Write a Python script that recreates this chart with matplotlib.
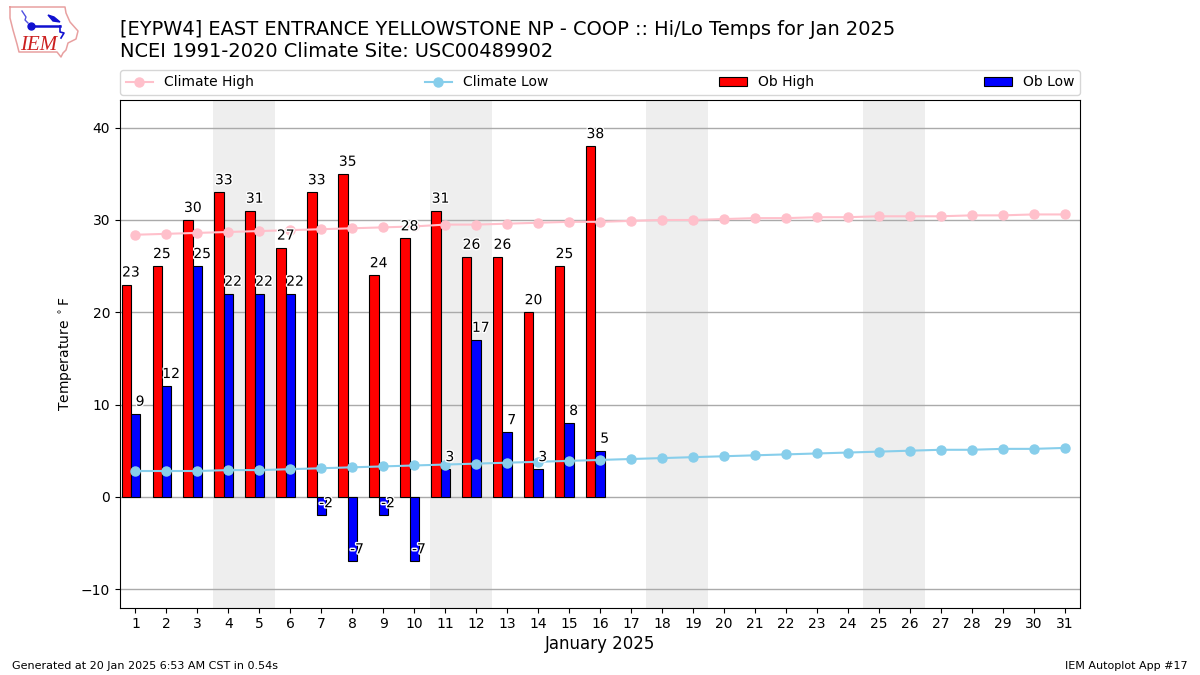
import matplotlib
matplotlib.use("Agg")
import matplotlib.pyplot as plt
import matplotlib.patheffects as pe
import numpy as np

days = list(range(1, 32))
ob_days = list(range(1, 17))
ob_high = [23, 25, 30, 33, 31, 27, 33, 35, 24, 28, 31, 26, 26, 20, 25, 38]
ob_low = [9, 12, 25, 22, 22, 22, -2, -7, -2, -7, 3, 17, 7, 3, 8, 5]
climate_high = [28.4, 28.5, 28.6, 28.7, 28.8, 28.9, 29.0, 29.1, 29.2, 29.3, 29.5,
                29.5, 29.6, 29.7, 29.8, 29.8, 29.9, 30.0, 30.0, 30.1, 30.2, 30.2,
                30.3, 30.3, 30.4, 30.4, 30.4, 30.5, 30.5, 30.6, 30.6]
climate_low = [2.8, 2.8, 2.8, 2.9, 2.9, 3.0, 3.1, 3.2, 3.3, 3.4, 3.5, 3.6, 3.7,
               3.8, 3.9, 4.0, 4.1, 4.2, 4.3, 4.4, 4.5, 4.6, 4.7, 4.8, 4.9, 5.0,
               5.1, 5.1, 5.2, 5.2, 5.3]
weekends = [(4, 5), (11, 12), (18, 19), (25, 26)]
title_lines = ["[EYPW4] EAST ENTRANCE YELLOWSTONE NP - COOP :: Hi/Lo Temps for Jan 2025",
               "NCEI 1991-2020 Climate Site: USC00489902"]

W, H = 1200, 675
fig = plt.figure(figsize=(12, 6.75), dpi=100)
ax = fig.add_axes([120 / W, 1 - 607.6 / H, (1080 - 120) / W, (607.6 - 100) / H])

for a, b in weekends:
    ax.axvspan(a - 0.5, b + 0.5, color="#eeeeee", lw=0, zorder=0)

ax.set_axisbelow(True)
ax.yaxis.grid(True, color="#aaaaaa", lw=1, zorder=1)

obx = np.array(ob_days)
h_bars = ax.bar(obx - 0.30, ob_high, width=0.3, color="red", edgecolor="k", lw=0.8,
                label="Ob High", zorder=2)
l_bars = ax.bar(obx, ob_low, width=0.3, color="blue", edgecolor="k", lw=0.8,
                label="Ob Low", zorder=2)
ln1, = ax.plot(days, climate_high, color="pink", marker="o", ms=6.5, label="Climate High", zorder=3)
ln2, = ax.plot(days, climate_low, color="skyblue", marker="o", ms=6.5, label="Climate Low", zorder=3)

stroke = [pe.withStroke(linewidth=2, foreground="white")]
for d, v in zip(ob_days, ob_high):
    ax.text(d - 0.15, v + 0.55, str(v), ha="center", va="bottom", fontsize=10,
            path_effects=stroke, zorder=5)
for d, v in zip(ob_days, ob_low):
    ax.text(d + 0.15, v + 0.55, str(v), ha="center", va="bottom", fontsize=10,
            path_effects=stroke, zorder=5)

ax.set_xlim(0.5, 31.5)
ax.set_ylim(-12, 43)
ax.set_xticks(days)
ax.set_yticks([-10, 0, 10, 20, 30, 40])
ax.set_xlabel("January 2025", fontsize=12, labelpad=3)
ax.set_ylabel(r"Temperature $^\circ$F")

fig.legend(handles=[ln1, ln2, h_bars, l_bars], loc="lower left",
           bbox_to_anchor=(120 / W, 1 - 95 / H, (1080 - 120) / W, 26 / H),
           ncol=4, mode="expand", borderaxespad=0, fontsize=10)

fig.text(120 / W, 1 - 29.4 / H, title_lines[0], fontsize=13.98, va="center", ha="left")
fig.text(120 / W, 1 - 51.4 / H, title_lines[1], fontsize=13.98, va="center", ha="left")
fig.text(12 / W, 1 - 666 / H, "Generated at 20 Jan 2025 6:53 AM CST in 0.54s", fontsize=8, va="center")
fig.text(1188 / W, 1 - 666 / H, "IEM Autoplot App #17", fontsize=8, va="center", ha="right")

# logo
lg = fig.add_axes([0, 1 - 70 / H, 120 / W, 70 / H])
lg.set_xlim(0, 120)
lg.set_ylim(70, 0)
lg.axis("off")
ox = [10, 65, 66, 70, 78, 76, 68, 66, 63, 61, 57, 19, 17, 13, 10, 10]
oy = [7, 7, 13, 22, 31, 39, 43, 50, 53, 57, 52, 52, 44, 30, 18, 7]
lg.plot(ox, oy, color="#e8a0a0", lw=1.1)
lg.plot([31, 60], [26, 26], color="#1010d0", lw=1.8)
lg.plot([31], [26], "o", color="#1010d0", ms=5)
lg.fill([48, 54, 60, 53, 48], [15, 17, 22, 21, 15], color="#1010d0", lw=1)
lg.plot([60, 60, 64, 61], [26, 32, 33, 38], color="#1010d0", lw=1.2)
lg.plot([22, 26, 25, 28], [11, 17, 20, 23], color="#5050e0", lw=1)
lg.text(20.5, 45, "IEM", color="#cc2020", fontsize=15, family="Liberation Serif",
        style="italic", ha="left", va="center")

fig.savefig("out.png", dpi=100)
